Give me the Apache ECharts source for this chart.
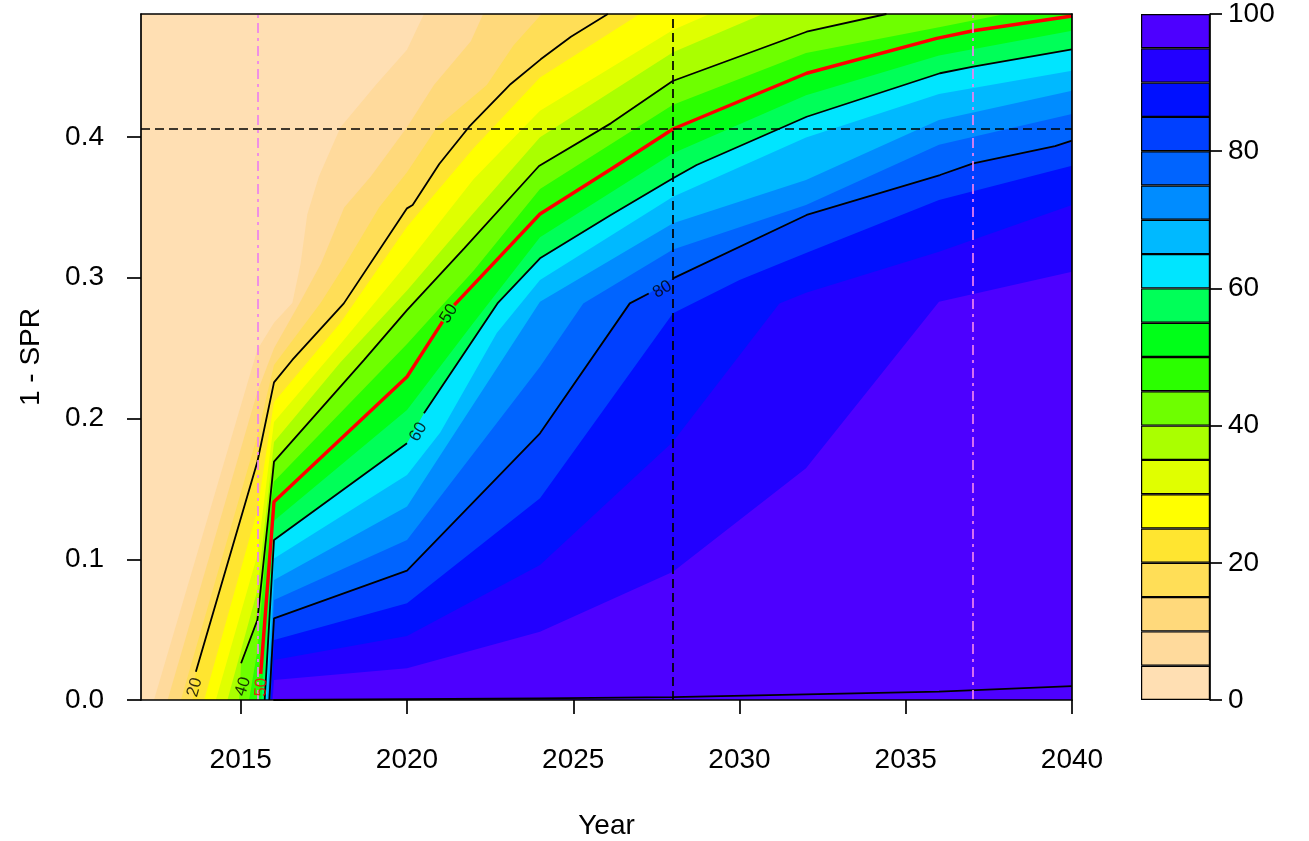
<!DOCTYPE html>
<html><head><meta charset="utf-8">
<script src="https://cdn.jsdelivr.net/npm/echarts@6/dist/echarts.min.js"></script>
<style>html,body{margin:0;padding:0;background:#fff}#c{width:1309px;height:841px}</style>
</head><body><div id="c"></div>
<script>
// ---------- data ----------
const xTicks = [2015, 2020, 2025, 2030, 2035, 2040];
const yTicks = [0, 0.1, 0.2, 0.3, 0.4];
const cbTicks = [0, 20, 40, 60, 80, 100];
const levels = [0,5,10,15,20,25,30,35,40,45,50,55,60,65,70,75,80,85,90,95,100];
const bandColors = ['#FFDFB3','#FFDA9C','#FFD97B','#FFDE57','#FFE530','#FFFF00','#E0FF00','#AAFF00','#6EFF00','#2BFF00',
                    '#00FF18','#00FF58','#00E5FF','#00B9FF','#008CFF','#0064FF','#0040FF','#0010FF','#2200FF','#4D00FF'];
const xRange = [2012, 2040];
const yRange = [0, 0.4874];
const refYear = 2028, refSPR = 0.4057;
const markYears = [2015.5, 2037];

// contour lines: [year, 1-SPR]
const lvl05 = [[2012.39,0],[2015.5,0.249],[2016,0.268],[2016.55,0.282],[2016.8,0.31],[2017.0,0.345],[2017.35,0.372],[2018.0,0.407],[2019.06,0.437],[2020.0,0.462],[2020.51,0.4874]];
const lvl10 = [[2012.8,0],[2015.5,0.219],[2016,0.25],[2016.77,0.282],[2017.41,0.31],[2018.11,0.35],[2018.91,0.372],[2020.0,0.407],[2020.81,0.437],[2021.92,0.468],[2022.29,0.4874]];
const lvl15 = [[2013.2,0],[2015.5,0.188],[2016,0.238],[2017.4,0.282],[2018.15,0.31],[2019.16,0.35],[2020.0,0.375],[2020.9,0.407],[2022.4,0.437],[2023.2,0.465],[2024.05,0.4874]];
const lvl20 = [[2013.55,0],[2013.65,0.0201],[2015.5,0.1693],[2016,0.2257],[2016.55,0.2416],[2018.1,0.2818],[2020.0,0.3493],[2020.17,0.3517],[2020.97,0.3808],[2021.87,0.4073],[2023.12,0.4377],[2024.02,0.4552],[2024.93,0.4713],[2026.04,0.4874]];
const lvl25 = [[2013.9,0],[2015.5,0.135],[2016,0.2117],[2018,0.268],[2020,0.3363],[2022,0.392],[2024,0.4423],[2027.0,0.4874]];
const lvl30 = [[2014.25,0],[2015.5,0.103],[2016,0.1975],[2018,0.253],[2020,0.31],[2022,0.37],[2024,0.4187],[2028,0.476],[2029.1,0.4874]];
const lvl35 = [[2014.6,0],[2015.5,0.078],[2016,0.1833],[2018,0.24],[2020,0.291],[2022,0.346],[2024,0.3998],[2028,0.4602],[2030.7,0.4874]];
const lvl40 = [[2014.95,0],[2015.01,0.0261],[2015.5,0.0568],[2015.82,0.1279],[2016,0.1693],[2018.71,0.2416],[2020,0.277],[2021.72,0.3209],[2023.97,0.3794],[2026.13,0.4097],[2027.99,0.4398],[2032.02,0.4748],[2034.42,0.4874]];
const lvl45 = [[2015.25,0],[2015.5,0.035],[2015.85,0.13],[2016,0.1553],[2020,0.253],[2022,0.305],[2024,0.3631],[2028,0.423],[2032,0.4597],[2036,0.478],[2038,0.4874]];
const lvl50 = [[2015.53,0],[2015.6,0.0186],[2016,0.1409],[2020,0.2297],[2021.07,0.2688],[2021.42,0.2806],[2024,0.3453],[2026.13,0.3771],[2028,0.4057],[2032.02,0.4453],[2035.93,0.4701],[2037.03,0.4755],[2040,0.486]];
const lvl55 = [[2015.62,0],[2016,0.1273],[2020,0.206],[2022,0.268],[2024,0.3287],[2028,0.3884],[2032,0.4297],[2036,0.458],[2040,0.4755]];
const lvl60 = [[2015.72,0],[2016,0.1137],[2020,0.1824],[2020.51,0.2037],[2022.72,0.2818],[2024,0.3138],[2026.13,0.3446],[2028,0.3707],[2028.71,0.3801],[2032.02,0.4144],[2036.03,0.4453],[2037.03,0.45],[2040,0.4623]];
const lvl65 = [[2015.78,0],[2016,0.1006],[2020,0.1599],[2021,0.19],[2022.7,0.2607],[2024,0.2984],[2028,0.3576],[2032,0.3996],[2036,0.4305],[2040,0.4471]];
const lvl70 = [[2015.82,0],[2016,0.0853],[2020,0.1374],[2024,0.283],[2028,0.3387],[2032,0.3694],[2036,0.412],[2040,0.4329]];
const lvl75 = [[2015.84,0],[2016,0.0711],[2020,0.1137],[2024,0.2368],[2025.3,0.2818],[2028,0.32],[2032,0.3517],[2036,0.3945],[2040,0.4163]];
const lvl80 = [[2015.86,0],[2016,0.058],[2020,0.0919],[2024,0.1895],[2026.7,0.2818],[2027.27,0.2888],[2028,0.2996],[2032.02,0.3446],[2036.03,0.373],[2037.03,0.3813],[2039.49,0.3936],[2040,0.3974]];
const lvl85 = [[2015.9,0],[2016,0.0426],[2020,0.0687],[2024,0.1433],[2028,0.2747],[2030,0.2984],[2032,0.3176],[2036,0.3552],[2040,0.3796]];
const lvl90 = [[2015.93,0],[2016,0.0284],[2020,0.0455],[2024,0.0959],[2028,0.1835],[2031.2,0.2818],[2032,0.2894],[2036,0.3185],[2040,0.3517]];
const lvl95 = [[2015.96,0],[2016,0.0142],[2020,0.0225],[2024,0.0485],[2028,0.0912],[2032,0.1646],[2036,0.283],[2040,0.3043]];
const lvl100 = [[2015.98,0],[2016,0.0012],[2024,0.0012],[2028,0.002],[2032,0.004],[2036,0.0059],[2040,0.0099]];

const fillLevels = [lvl05,lvl10,lvl15,lvl20,lvl25,lvl30,lvl35,lvl40,lvl45,lvl50,lvl55,lvl60,lvl65,lvl70,lvl75,lvl80,lvl85,lvl90,lvl95];

// ---------- chart ----------
const FONT = '"Liberation Sans", Arial, Helvetica, sans-serif';
const chart = echarts.init(document.getElementById('c'), null, {renderer: 'canvas'});

function padFill(arr) {
  const d = arr.map(p => p.slice());
  if (d[0][0] > xRange[0]) d.unshift([xRange[0], d[0][1]]);
  const last = d[d.length - 1];
  if (last[0] < xRange[1]) d.push([xRange[1], last[1]]);
  return d;
}
function withGaps(arr, gaps) {
  const out = [];
  arr.forEach(p => { out.push(p); if (gaps && gaps.indexOf(p[0]) >= 0) out.push([p[0], '-']); });
  return out;
}

const series = [];
fillLevels.forEach((arr, i) => {
  series.push({
    type: 'line', xAxisIndex: 0, yAxisIndex: 0, data: padFill(arr),
    symbol: 'none', showSymbol: false, silent: true, animation: false,
    lineStyle: {width: 0, opacity: 0},
    areaStyle: {color: bandColors[i + 1], opacity: 1, origin: 'start'},
    z: 2
  });
});

const contourSpec = [
  {data: lvl20, color: '#000', width: 1.8, gaps: [2013.55]},
  {data: lvl40, color: '#000', width: 1.8, gaps: [2014.95]},
  {data: lvl60, color: '#000', width: 1.8, gaps: [2020]},
  {data: lvl80, color: '#000', width: 1.8, gaps: [2027.27]},
  {data: lvl100, color: '#000', width: 1.8, gaps: []},
  {data: lvl50, color: '#FF0000', width: 3.4, gaps: [2015.53, 2021.07]}
];
contourSpec.forEach(c => {
  series.push({
    type: 'line', xAxisIndex: 0, yAxisIndex: 0, data: withGaps(c.data, c.gaps),
    symbol: 'none', showSymbol: false, silent: true, animation: false, connectNulls: false,
    lineStyle: {color: c.color, width: c.width}, z: 4
  });
});

// reference lines
series.push({
  type: 'line', xAxisIndex: 0, yAxisIndex: 0, data: [], silent: true, animation: false, z: 5,
  markLine: {
    silent: true, symbol: ['none', 'none'], label: {show: false}, animation: false, precision: 5,
    data: [
      {xAxis: refYear, lineStyle: {color: '#000', width: 1.7, type: [9, 5]}},
      {yAxis: refSPR, lineStyle: {color: '#000', width: 1.7, type: [9, 5]}},
      {xAxis: markYears[0], lineStyle: {color: '#EE82EE', width: 1.7, type: [10, 5, 3, 5]}},
      {xAxis: markYears[1], lineStyle: {color: '#EE82EE', width: 1.7, type: [10, 5, 3, 5]}}
    ]
  }
});

// contour labels
const contourLabels = [
  {text: '20', x: 2013.62, y: 0.009, rot: 74, color: '#000'},
  {text: '40', x: 2015.07, y: 0.0095, rot: 72, color: '#000'},
  {text: '50', x: 2015.62, y: 0.009, rot: 86, color: '#FF0000'},
  {text: '50', x: 2021.26, y: 0.2745, rot: 57, color: '#000'},
  {text: '60', x: 2020.34, y: 0.1904, rot: 61, color: '#000'},
  {text: '80', x: 2027.68, y: 0.2917, rot: 31, color: '#000'}
];
series.push({
  type: 'scatter', xAxisIndex: 0, yAxisIndex: 0, symbolSize: 0, silent: true, animation: false, z: 6,
  data: contourLabels.map(l => ({
    value: [l.x, l.y],
    label: {show: true, position: 'inside', formatter: l.text, rotate: l.rot, color: l.color,
            fontSize: 17, fontFamily: FONT}
  }))
});

// colour bar
for (let j = 0; j < levels.length - 1; j++) {
  series.push({
    type: 'bar', xAxisIndex: 2, yAxisIndex: 2, stack: 'cb', silent: true, animation: false,
    data: [levels[j + 1] - levels[j]], barWidth: '100%',
    itemStyle: {color: bandColors[j], borderColor: '#000', borderWidth: 1.2}
  });
}

const axLine = {show: true, onZero: false, lineStyle: {color: '#000', width: 1.7}};
const tickStyle = {color: '#000', width: 1.7};
const lab = {color: '#000', fontSize: 28, fontFamily: FONT};

chart.setOption({
  animation: false,
  backgroundColor: '#fff',
  grid: [
    {left: 141, top: 14, width: 931, height: 686, show: true, backgroundColor: bandColors[0], borderWidth: 0,
     containLabel: false, outerBoundsMode: 'none'},
    {left: 1141, top: 14, width: 69, height: 686, show: false, containLabel: false, outerBoundsMode: 'none'}
  ],
  xAxis: [
    {gridIndex: 0, type: 'value', min: xRange[0], max: xRange[1], position: 'bottom', z: 10,
     axisLine: axLine, splitLine: {show: false},
     axisTick: {show: true, length: 14, lineStyle: tickStyle, customValues: xTicks},
     axisLabel: Object.assign({customValues: xTicks, margin: 46, formatter: v => String(v)}, lab),
     name: 'Year', nameLocation: 'middle', nameGap: 112, nameTextStyle: lab},
    {gridIndex: 0, type: 'value', min: xRange[0], max: xRange[1], position: 'top', z: 10,
     axisLine: axLine, axisTick: {show: false}, axisLabel: {show: false}, splitLine: {show: false}},
    {gridIndex: 1, type: 'category', data: ['bar'], show: false}
  ],
  yAxis: [
    {gridIndex: 0, type: 'value', min: yRange[0], max: yRange[1], position: 'left', z: 10,
     axisLine: axLine, splitLine: {show: false},
     axisTick: {show: true, length: 14, lineStyle: tickStyle, customValues: yTicks},
     axisLabel: Object.assign({customValues: yTicks, margin: 37, formatter: v => v.toFixed(1)}, lab),
     name: '1 - SPR', nameLocation: 'middle', nameGap: 96, nameRotate: 90, nameTextStyle: lab},
    {gridIndex: 0, type: 'value', min: yRange[0], max: yRange[1], position: 'right', z: 10,
     axisLine: axLine, axisTick: {show: false}, axisLabel: {show: false}, splitLine: {show: false}},
    {gridIndex: 1, type: 'value', min: 0, max: 100, position: 'right', z: 10,
     axisLine: axLine, splitLine: {show: false},
     axisTick: {show: true, length: 12, lineStyle: tickStyle, customValues: cbTicks},
     axisLabel: Object.assign({customValues: cbTicks, margin: 18}, lab)}
  ],
  series: series
});
</script></body></html>
